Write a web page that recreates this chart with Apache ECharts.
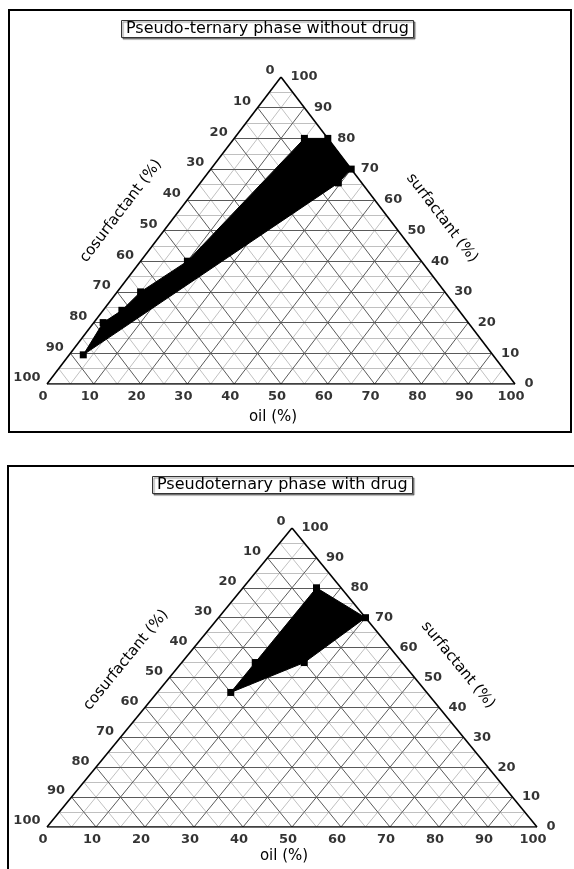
<!DOCTYPE html>
<html><head><meta charset="utf-8">
<script src="https://cdn.jsdelivr.net/npm/echarts/dist/echarts.min.js"></script>
<style>html,body{margin:0;padding:0;background:#fff}#c{width:574px;height:869px}</style>
</head><body><div id="c"></div>
<script>
// ---- data ----
const TICKS = [0, 10, 20, 30, 40, 50, 60, 70, 80, 90, 100];
const MINOR_TICKS = [5, 15, 25, 35, 45, 55, 65, 75, 85, 95];
const TITLES = ['Pseudo-ternary phase without drug', 'Pseudoternary phase with drug'];
const AXIS_NAMES = ['oil (%)', 'cosurfactant (%)', 'surfactant (%)'];
// region vertices (oil %, surfactant %); cosurfactant = 100 - oil - surfactant
const noDrugOil  = [3,   2,  4,  5, 10, 15, 20, 30, 29.5];
const noDrugSurf = [9.5, 20, 24, 30, 40, 80, 80, 70, 65.5];
const drugOil  = [15, 30, 25, 15, 15];
const drugSurf = [80, 70, 55, 45, 55];

// ternary -> cartesian (x across base, y height)
function tern(oil, surf) { return [(oil + surf / 2) / 100, surf / 100]; }

const FONT = 'DejaVu Sans';
const panels = [
  {grid: {left: 47, top: 77, width: 468, height: 307}, oil: noDrugOil, surf: noDrugSurf},
  {grid: {left: 47, top: 528, width: 490, height: 299}, oil: drugOil, surf: drugSurf}
];

function familyLines(vals) {
  const out = [];
  vals.forEach(v => {
    out.push({coords: [tern(0, v), tern(100 - v, v)]});      // surfactant const
    out.push({coords: [tern(v, 0), tern(v, 100 - v)]});      // oil const
    out.push({coords: [tern(100 - v, 0), tern(0, 100 - v)]}); // cosurfactant const
  });
  return out;
}

const grids = [], xAxes = [], yAxes = [], series = [];
panels.forEach((p, i) => {
  grids.push(Object.assign({containLabel: false}, p.grid));
  xAxes.push({type: 'value', gridIndex: i, min: 0, max: 1, show: false});
  yAxes.push({type: 'value', gridIndex: i, min: 0, max: 1, show: false});
  const ax = {xAxisIndex: i, yAxisIndex: i, silent: true, animation: false};
  series.push(Object.assign({type: 'lines', coordinateSystem: 'cartesian2d', z: 1,
    lineStyle: {color: '#c0c0c0', width: 1, opacity: 1},
    data: familyLines(MINOR_TICKS)}, ax));
  series.push(Object.assign({type: 'lines', coordinateSystem: 'cartesian2d', z: 2,
    lineStyle: {color: '#5a5a5a', width: 1, opacity: 1},
    data: familyLines(TICKS.filter(t => t > 0 && t < 100))}, ax));
  series.push(Object.assign({type: 'lines', coordinateSystem: 'cartesian2d', z: 3,
    lineStyle: {color: '#000', width: 1.6, opacity: 1},
    data: [{coords: [tern(0, 0), tern(100, 0)]}, {coords: [tern(100, 0), tern(0, 100)]}, {coords: [tern(0, 100), tern(0, 0)]}]}, ax));
  const pts = p.oil.map((o, k) => tern(o, p.surf[k]));
  series.push(Object.assign({type: 'custom', z: 5, data: pts,
    renderItem: function (params, api) {
      if (params.dataIndex !== 0) return;
      return {type: 'polygon', shape: {points: pts.map(q => api.coord(q))},
        style: {fill: '#000', stroke: '#000', lineWidth: 1}};
    }}, ax));
  series.push(Object.assign({type: 'scatter', z: 6, symbol: 'rect', symbolSize: 7,
    itemStyle: {color: '#000', opacity: 1}, data: pts}, ax));
  const lab = {show: true, color: '#000', fontFamily: FONT, fontSize: 13, fontWeight: 'bold', formatter: q => q.value[2]};
  const hidden = {color: 'rgba(0,0,0,0)'};
  series.push(Object.assign({type: 'scatter', z: 7, symbolSize: 1, itemStyle: hidden,
    label: Object.assign({position: 'bottom', distance: 6, offset: [-4, 0]}, lab),
    data: TICKS.map(t => tern(t, 0).concat([String(t)]))}, ax));
  series.push(Object.assign({type: 'scatter', z: 7, symbolSize: 1, itemStyle: hidden,
    label: Object.assign({position: 'left', distance: 6, offset: [0, -6]}, lab),
    data: TICKS.map(t => tern(0, 100 - t).concat([String(t)]))}, ax));
  series.push(Object.assign({type: 'scatter', z: 7, symbolSize: 1, itemStyle: hidden,
    label: Object.assign({position: 'right', distance: 9, offset: [0, 0]}, lab),
    data: TICKS.map(t => tern(100 - t, t).concat([String(t)]))}, ax));
});

const titleStyle = {color: '#000', fontFamily: FONT, fontSize: 16, fontWeight: 'normal'};
const rad = d => d * Math.PI / 180;
function axisText(x, y, rot, text) {
  return {type: 'text', x: x, y: y, rotation: rad(rot), z: 10,
    style: {text: text, font: '15px "DejaVu Sans"', fill: '#000', align: 'center', verticalAlign: 'middle'}};
}

const chart = echarts.init(document.getElementById('c'), null, {renderer: 'canvas'});
chart.setOption({
  animation: false,
  backgroundColor: '#fff',
  title: [
    {text: TITLES[0], left: 121, top: 20, padding: [1, 5], borderColor: '#333', borderWidth: 1,
     backgroundColor: '#fff', shadowColor: 'rgba(0,0,0,0.45)', shadowOffsetX: 1.5, shadowOffsetY: 1.5, shadowBlur: 1,
     textStyle: titleStyle},
    {text: TITLES[1], left: 152, top: 476, padding: [1, 5], borderColor: '#333', borderWidth: 1,
     backgroundColor: '#fff', shadowColor: 'rgba(0,0,0,0.45)', shadowOffsetX: 1.5, shadowOffsetY: 1.5, shadowBlur: 1,
     textStyle: titleStyle}
  ],
  grid: grids, xAxis: xAxes, yAxis: yAxes, series: series,
  graphic: [
    {type: 'rect', z: 0, shape: {x: 9, y: 10, width: 562, height: 422}, style: {fill: 'none', stroke: '#000', lineWidth: 2}},
    {type: 'rect', z: 0, shape: {x: 8, y: 466, width: 590, height: 430}, style: {fill: 'none', stroke: '#000', lineWidth: 2}},
    axisText(273, 417, 0, AXIS_NAMES[0]),
    axisText(121, 211, 52.7, AXIS_NAMES[1]),
    axisText(442, 218, -52.7, AXIS_NAMES[2]),
    axisText(284, 856, 0, AXIS_NAMES[0]),
    axisText(126, 660, 50.7, AXIS_NAMES[1]),
    axisText(458, 665, -50.7, AXIS_NAMES[2])
  ]
});
</script></body></html>
